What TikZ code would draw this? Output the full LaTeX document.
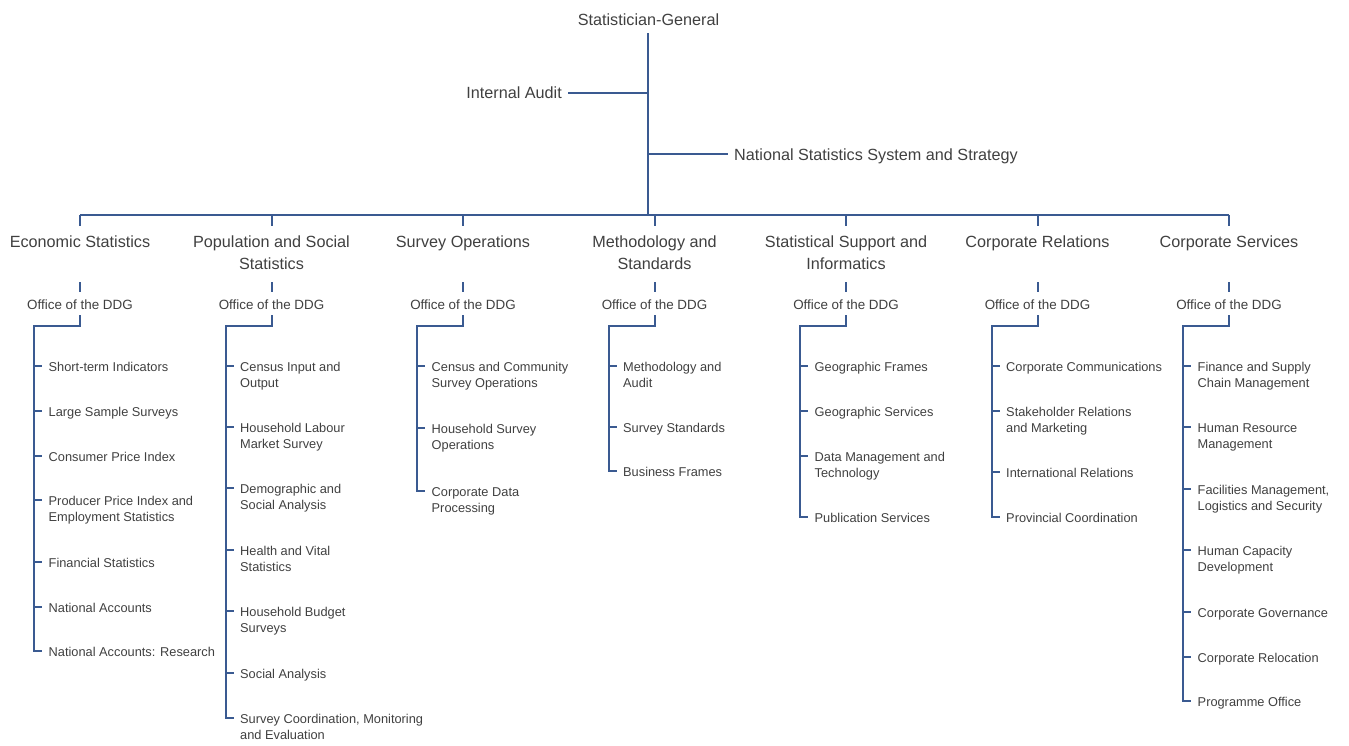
\documentclass[tikz,border=0pt]{standalone}
\usepackage{fontspec}
\setmainfont{Liberation Sans}
\usetikzlibrary{calc}
\definecolor{linec}{RGB}{58,90,145}
\definecolor{txtc}{RGB}{64,64,64}
\tikzset{
  conn/.style={draw=linec, line width=2pt},
  toptext/.style={font=\fontsize{16.2}{22}\selectfont, text=txtc, inner sep=0pt},
  divhead/.style={font=\fontsize{16.2}{22}\selectfont, text=txtc, inner sep=0pt, align=center, anchor=north},
  office/.style={font=\fontsize{13.4}{16}\selectfont, text=txtc, inner sep=0pt, anchor=base},
  unit/.style={font=\fontsize{12.8}{16.5}\selectfont, text=txtc, inner sep=0pt, align=left, anchor=north west},
}
% division: name, centre x, heading text
\newcommand\division[3]{%
  \coordinate (#1t) at (#2,215);
  \node[divhead] (#1) at (#2,234) {\rule{0pt}{13pt}#3};
  \draw[conn] (#1t) -- ++(0,11);
  \node[office] (#1o) at (#2,309.5) {Office of the DDG};
  \draw[conn] ($(#1o.north)+(0,-8)$) -- ++(0,-10);
}
% unit: name, branch x, tick y, text
\newcommand\unititem[4]{%
  \node[unit] (#1) at (#2+14.5,#3-5.5) {\rule{0pt}{10.5pt}#4};
  \draw[conn] ($(#1.north west)+(-14.5,5.5)$) -- ++(8,0);
}
% branch: division name, centre x, branch x, last y
\newcommand\branch[4]{%
  \draw[conn] ($(#1o.south)+(0,5.5)$) -- (#2,326) -| (#3,#4) -- ++(8,0);
}
\begin{document}
\begin{tikzpicture}[x=1pt,y=-1pt]
\useasboundingbox (0,0) rectangle (1349,745);

\node[toptext, anchor=base] (sg) at (648.5,25) {Statistician-General};
\node[toptext, anchor=base east] (ia) at (562,98.5) {Internal Audit};
\node[toptext, anchor=base west] (nsss) at (734,160) {National Statistics System and Strategy};
\coordinate (hub) at (648,215);
\coordinate (iaj) at (648,92.5);
\coordinate (nsj) at (648,154);
\draw[conn] ($(sg.base)+(-0.5,8)$) -- (hub);
\draw[conn] ($(ia.base east)+(6,-6)$) -- (iaj);
\draw[conn] (nsj) -- ($(nsss.base west)+(-6,-6)$);

\division{d1}{80}{Economic Statistics}
\division{d2}{271.5}{Population and Social\\Statistics}
\division{d3}{463}{Survey Operations}
\division{d4}{654.5}{Methodology and\\Standards}
\division{d5}{846}{Statistical Support and\\Informatics}
\division{d6}{1037.5}{Corporate Relations}
\division{d7}{1229}{Corporate Services}
\draw[conn] (d1t) -- (d7t);

% column 1
\unititem{u11}{34}{366}{Short-term Indicators}
\unititem{u12}{34}{411}{Large Sample Surveys}
\unititem{u13}{34}{456}{Consumer Price Index}
\unititem{u14}{34}{500}{Producer Price Index and\\Employment Statistics}
\unititem{u15}{34}{562}{Financial Statistics}
\unititem{u16}{34}{607}{National Accounts}
\unititem{u17}{34}{651}{National Accounts: Research}
\branch{d1}{80}{34}{651}

% column 2
\unititem{u21}{225.5}{366}{Census Input and\\Output}
\unititem{u22}{225.5}{427}{Household Labour\\Market Survey}
\unititem{u23}{225.5}{488}{Demographic and\\Social Analysis}
\unititem{u24}{225.5}{550}{Health and Vital\\Statistics}
\unititem{u25}{225.5}{611}{Household Budget\\Surveys}
\unititem{u26}{225.5}{673}{Social Analysis}
\unititem{u27}{225.5}{718}{Survey Coordination, Monitoring\\and Evaluation}
\branch{d2}{271.5}{225.5}{718}

% column 3
\unititem{u31}{417}{366}{Census and Community\\Survey Operations}
\unititem{u32}{417}{428}{Household Survey\\Operations}
\unititem{u33}{417}{491}{Corporate Data\\Processing}
\branch{d3}{463}{417}{491}

% column 4
\unititem{u41}{608.5}{366}{Methodology and\\Audit}
\unititem{u42}{608.5}{427}{Survey Standards}
\unititem{u43}{608.5}{471}{Business Frames}
\branch{d4}{654.5}{608.5}{471}

% column 5
\unititem{u51}{800}{366}{Geographic Frames}
\unititem{u52}{800}{411}{Geographic Services}
\unititem{u53}{800}{456}{Data Management and\\Technology}
\unititem{u54}{800}{517}{Publication Services}
\branch{d5}{846}{800}{517}

% column 6
\unititem{u61}{991.5}{366}{Corporate Communications}
\unititem{u62}{991.5}{411}{Stakeholder Relations\\and Marketing}
\unititem{u63}{991.5}{472}{International Relations}
\unititem{u64}{991.5}{517}{Provincial Coordination}
\branch{d6}{1037.5}{991.5}{517}

% column 7
\unititem{u71}{1183}{366}{Finance and Supply\\Chain Management}
\unititem{u72}{1183}{427}{Human Resource\\Management}
\unititem{u73}{1183}{489}{Facilities Management,\\Logistics and Security}
\unititem{u74}{1183}{550}{Human Capacity\\Development}
\unititem{u75}{1183}{612}{Corporate Governance}
\unititem{u76}{1183}{657}{Corporate Relocation}
\unititem{u77}{1183}{701}{Programme Office}
\branch{d7}{1229}{1183}{701}
\end{tikzpicture}
\end{document}
